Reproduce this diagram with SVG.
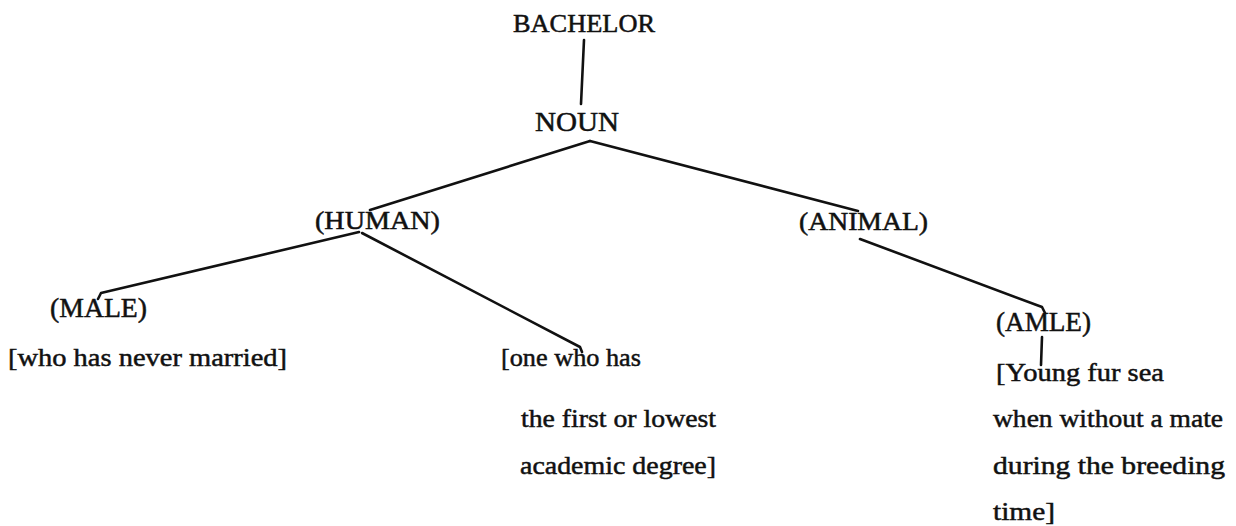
<svg xmlns="http://www.w3.org/2000/svg" width="1236" height="526" viewBox="0 0 1236 526">
<style>
text{font-family:"Liberation Serif","Times New Roman",serif;fill:#111;stroke:#111;stroke-width:0.5}
.c{stroke:#111;stroke-width:2.6;fill:none;stroke-linecap:round;stroke-linejoin:round}
</style>
<rect width="1236" height="526" fill="#fff"/>
<g id="connectors">
<polyline class="c" points="584,40 581,104"/>
<polyline class="c" points="590,141 370,210"/>
<polyline class="c" points="590,141 858,211"/>
<polyline class="c" points="359,232 101,293 98,299"/>
<polyline class="c" points="362,233 580,347 582,352"/>
<polyline class="c" points="860,239 1042,307 1045,313"/>
<polyline class="c" points="1042,337 1041,365"/>
</g>
<g id="bachelor"><text x="513" y="32" font-size="25" textLength="142" lengthAdjust="spacingAndGlyphs">BACHELOR</text></g>
<g id="noun"><text x="535" y="131" font-size="27" textLength="84" lengthAdjust="spacingAndGlyphs">NOUN</text></g>
<g id="human"><text x="315" y="229" font-size="25" textLength="125" lengthAdjust="spacingAndGlyphs">(HUMAN)</text></g>
<g id="animal"><text x="799" y="230" font-size="25" textLength="129" lengthAdjust="spacingAndGlyphs">(ANIMAL)</text></g>
<g id="male">
<text x="50" y="317" font-size="27" textLength="97" lengthAdjust="spacingAndGlyphs">(MALE)</text>
<text x="8" y="366" font-size="26" textLength="279" lengthAdjust="spacingAndGlyphs">[who has never married]</text>
</g>
<g id="degree">
<text x="501" y="366" font-size="26" textLength="140" lengthAdjust="spacingAndGlyphs">[one who has</text>
<text x="521" y="427" font-size="26" textLength="195" lengthAdjust="spacingAndGlyphs">the first or lowest</text>
<text x="520" y="474" font-size="26" textLength="196" lengthAdjust="spacingAndGlyphs">academic degree]</text>
</g>
<g id="amle">
<text x="996" y="331" font-size="27" textLength="95" lengthAdjust="spacingAndGlyphs">(AMLE)</text>
<text x="996" y="381" font-size="26" textLength="168" lengthAdjust="spacingAndGlyphs">[Young fur sea</text>
<text x="993" y="427" font-size="26" textLength="230" lengthAdjust="spacingAndGlyphs">when without a mate</text>
<text x="993" y="474" font-size="26" textLength="232" lengthAdjust="spacingAndGlyphs">during the breeding</text>
<text x="993" y="520" font-size="26" textLength="62" lengthAdjust="spacingAndGlyphs">time]</text>
</g>
</svg>
